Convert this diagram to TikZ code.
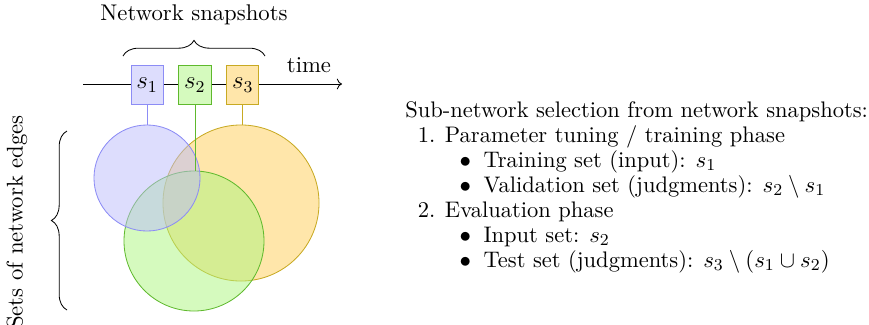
\documentclass[tikz,border=0pt]{standalone}
\usepackage{xcolor}
\usepackage{tikz}
\usetikzlibrary{arrows.meta, positioning, decorations.pathreplacing}
\definecolor{setblue}{RGB}{187, 187, 251}
\definecolor{setgreen}{RGB}{171, 245, 125}
\definecolor{setyellow}{RGB}{255, 205, 85}
\definecolor{lineblue}{RGB}{140, 140, 245}
\definecolor{linegreen}{RGB}{95, 185, 45}
\definecolor{lineyellow}{RGB}{200, 170, 35}
\newcommand{\enumline}[2]{\hspace*{6pt}\makebox[13pt][l]{#1}#2}
\newcommand{\bulletline}[1]{\hspace*{26pt}\makebox[11.5pt][l]{$\bullet$}#1}

\begin{document}
\begin{tikzpicture}[
    x=0.48pt, y=-0.48pt,
    snap/.style={draw=line#1, fill=set#1!50, minimum width=15.4pt,
                 minimum height=18.7pt, inner sep=0pt, font=\large},
    edgeset/.style={circle, draw=line#1, fill=set#1, fill opacity=0.5,
                    inner sep=0pt},
    link/.style={draw=line#1},
    brace/.style={decorate, decoration={brace, amplitude=7.5pt}},
    tag/.style={font=\fontsize{10.9}{13}\selectfont}
]
    \useasboundingbox (0,0) rectangle (869,324);

    % time axis with the snapshots
    \coordinate (t0) at (83,84);
    \coordinate (t1) at (342,84);
    \draw[->] (t0) -- (t1);
    \node[tag] (time) at (309,65) {time};

    \node[snap=blue] (s1) at (147,85) {$s_1$};
    \node[snap=green, right=7.2pt of s1] (s2) {$s_2$};
    \node[snap=yellow, right=7.2pt of s2] (s3) {$s_3$};

    \coordinate (snapL) at (123,56);
    \coordinate (snapR) at (265,56);
    \draw[brace] (snapL) -- (snapR);
    \node[tag] (snaplabel) at (194,15) {Network snapshots};

    % edge sets
    \node[edgeset=yellow, minimum size=74.9pt] (ey) at (241,203) {};
    \node[edgeset=green, minimum size=67.2pt] (eg) at (194,241) {};
    \node[edgeset=blue, minimum size=50.9pt] (eb) at (147,178) {};

    \draw[link=blue] (s1.south) -- (s1.south |- eb.north);
    \draw[link=green] (s2.south) -- (s2.south |- eg.north);
    \draw[link=yellow] (s3.south) -- (s3.south |- ey.north);

    \coordinate (setB) at (67,310);
    \coordinate (setT) at (67,131);
    \draw[brace] (setB) -- (setT);
    \node[tag, rotate=90] (setlabel) at (17,222) {Sets of network edges};

    % protocol
    \node[anchor=north west, inner sep=0pt, align=left,
          font=\fontsize{10.8}{12}\selectfont] (steps) at (405,101) {%
        Sub-network selection from network snapshots:\\
        \enumline{1.}{Parameter tuning / training phase}\\
        \bulletline{Training set (input): $s_1$}\\
        \bulletline{Validation set (judgments): $s_2 \setminus s_1$}\\
        \enumline{2.}{Evaluation phase}\\
        \bulletline{Input set: $s_2$}\\
        \bulletline{Test set (judgments): $s_3 \setminus (s_1 \cup s_2)$}};
\end{tikzpicture}
\end{document}
